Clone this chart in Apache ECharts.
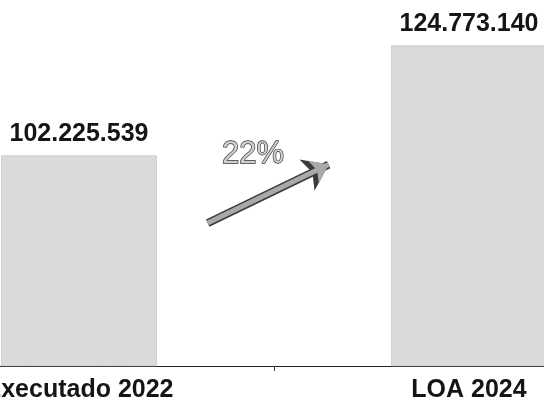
<!DOCTYPE html>
<html>
<head>
<meta charset="utf-8">
<script src="https://cdn.jsdelivr.net/npm/echarts@6/dist/echarts.min.js"></script>
<style>
  html, body { margin: 0; padding: 0; background: #fff; }
  #chart { width: 544px; height: 407px; }
</style>
</head>
<body>
<div id="chart"></div>
<script>
const categories = ['Executado 2022', 'LOA 2024']
const values = [102225539, 124773140]
// arrow start / end in data space (category position, value)
const arrowFrom = [0.33, 88300000]
const arrowTo = [0.64, 100300000]
const growthLabelAt = [0.446, 102400000]

const fmt = v => String(v).replace(/\B(?=(\d{3})+(?!\d))/g, '.')
const growth = Math.round((values[1] / values[0] - 1) * 100) + '%'

const font = 'Liberation Sans, Arial, sans-serif'

let chart = echarts.init(document.getElementById('chart'))
chart.setOption({
  backgroundColor: '#fff',
  animation: false,
  grid: { left: -116, width: 780, top: 10, bottom: 41, outerBoundsMode: 'none' },
  xAxis: [
    {
      type: 'category',
      data: categories,
      axisLine: { lineStyle: { color: '#222', width: 1 } },
      axisTick: { show: true, length: 5, lineStyle: { color: '#444' } },
      axisLabel: {
        interval: 0,
        margin: 12,
        fontSize: 25,
        fontWeight: 'bold',
        fontFamily: font,
        color: '#151515',
      },
    },
    // hidden helper axis so the annotation can sit between the categories
    { type: 'value', min: -0.5, max: 1.5, show: false },
  ],
  yAxis: {
    type: 'value',
    min: 59000000,
    max: 132000000,
    show: false,
    splitLine: { show: false },
  },
  series: [
    {
      type: 'bar',
      data: values,
      barWidth: 156,
      itemStyle: {
        color: '#dadadd',
        borderColor: '#b5b5b5',
        borderWidth: 1,
        borderType: 'dotted',
      },
      label: {
        show: true,
        position: 'top',
        distance: 9,
        fontSize: 25,
        fontWeight: 'bold',
        fontFamily: font,
        color: '#151515',
        formatter: p => fmt(p.value),
      },
    },
    {
      type: 'line',
      xAxisIndex: 1,
      data: [],
      silent: true,
      markLine: {
        silent: true,
        symbol: ['none', 'arrow'],
        label: { show: false },
        data: [
          [
            { coord: arrowFrom, symbol: 'none', lineStyle: { color: '#3a3a3a', width: 8, type: 'solid' } },
            { coord: arrowTo, symbol: 'arrow', symbolSize: [26, 24] },
          ],
          [
            { coord: arrowFrom, symbol: 'none', lineStyle: { color: '#a9a9a9', width: 5, type: 'solid' } },
            { coord: arrowTo, symbol: 'arrow', symbolSize: [19, 17] },
          ],
        ],
      },
      markPoint: {
        silent: true,
        symbol: 'circle',
        symbolSize: 1,
        itemStyle: { color: 'rgba(0,0,0,0)' },
        label: {
          show: true,
          position: 'inside',
          formatter: growth,
          fontSize: 31,
          fontFamily: font,
          color: '#cfcfcf',
          textBorderColor: '#333',
          textBorderWidth: 1.3,
        },
        data: [{ coord: growthLabelAt }],
      },
    },
  ],
})
</script>
</body>
</html>
